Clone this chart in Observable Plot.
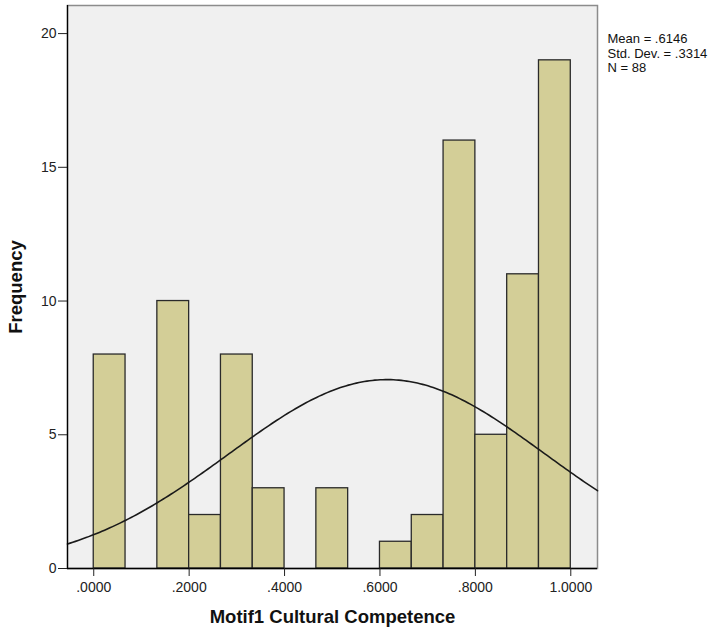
<!DOCTYPE html>
<html>
<head>
<meta charset="utf-8">
<script src="https://cdn.jsdelivr.net/npm/d3@7"></script>
<script src="https://cdn.jsdelivr.net/npm/@observablehq/plot@0.6"></script>
<style>
  html, body { margin: 0; padding: 0; background: #fff; }
  #chart svg { font-family: "Liberation Sans", Arial, sans-serif; }
  #chart [aria-label="y-axis label"] text, #chart [aria-label="x-axis label"] text { font-weight: bold; font-size: 18.5px; fill: #111; }
</style>
</head>
<body>
<div id="chart"></div>
<script>
// Histogram bins (lower edges, width 1/15) and counts
const binStart = 0;
const binWidth = 1 / 15;
const counts = [8, 0, 10, 2, 8, 3, 0, 3, 0, 1, 2, 16, 5, 11, 19];
// Summary statistics
const statMean = 0.6146;
const statSD = 0.3314;
const statN = 88;
const statLabels = ["Mean = .6146", "Std. Dev. = .3314", "N = 88"];
// Axis ticks
const xTicks = [0, 0.2, 0.4, 0.6, 0.8, 1.0];
const yTicks = [0, 5, 10, 15, 20];
const xDomain = [-0.055, 1.056];
const yDomain = [0, 21.05];

const bars = counts.map((c, i) => ({
  x1: binStart + i * binWidth,
  x2: binStart + (i + 1) * binWidth,
  count: c
})).filter(d => d.count > 0);

// Fitted normal curve scaled to frequency
const scale = statN * binWidth / (statSD * Math.sqrt(2 * Math.PI));
const curve = d3.range(0, 201).map(i => {
  const x = xDomain[0] + (xDomain[1] - xDomain[0]) * i / 200;
  const z = (x - statMean) / statSD;
  return {x, y: scale * Math.exp(-0.5 * z * z)};
});

const fmt = d => d.toFixed(4).replace(/^0/, "");

const chart = Plot.plot({
  width: 714,
  height: 632,
  marginLeft: 67,
  marginRight: 117,
  marginTop: 5,
  marginBottom: 64,
  style: {fontFamily: '"Liberation Sans", Arial, sans-serif', fontSize: "14px", color: "#222", background: "#fff"},
  x: {domain: xDomain},
  y: {domain: yDomain},
  marks: [
    Plot.frame({fill: "#f0f0f0", stroke: "#8c8c8c", strokeWidth: 1.5}),
    Plot.rectY(bars, {x1: "x1", x2: "x2", y: "count", fill: "#d3ce97", stroke: "#2a2a2a", strokeWidth: 1.3}),
    Plot.line(curve, {x: "x", y: "y", stroke: "#1a1a1a", strokeWidth: 1.6, curve: "linear"}),
    Plot.ruleY([0], {stroke: "#000", strokeWidth: 1.3}),
    Plot.ruleX([xDomain[0]], {stroke: "#000", strokeWidth: 1.3}),
    Plot.axisX({ticks: xTicks, tickFormat: fmt, tickSize: 8, tickPadding: 6, fontSize: 14, label: "Motif1 Cultural Competence", labelAnchor: "center", labelArrow: "none", labelOffset: 54}),
    Plot.axisY({ticks: yTicks, tickSize: 9, tickPadding: 2, fontSize: 14, label: "Frequency", labelAnchor: "center", labelArrow: "none", labelOffset: 59}),
    Plot.text([statLabels.join("\n")], {frameAnchor: "top-right", dx: 10, dy: 28, textAnchor: "start", lineAnchor: "top", lineHeight: 1.08, fontSize: 13, fill: "#111"})
  ]
});
document.getElementById("chart").appendChild(chart);
</script>
</body>
</html>
